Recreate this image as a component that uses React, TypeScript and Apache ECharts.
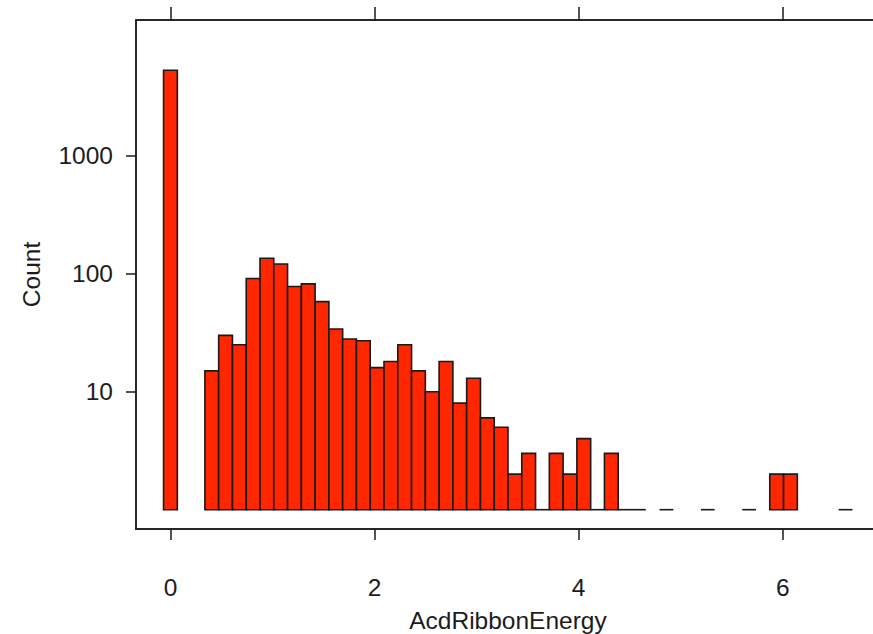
import React, { useEffect, useRef } from 'react';
import * as echarts from 'echarts';

// Histogram bins (centers) and counts
const binCenters = [
  0, 0.135, 0.27, 0.405, 0.54, 0.675, 0.81, 0.945, 1.08, 1.215,
  1.35, 1.485, 1.62, 1.755, 1.89, 2.025, 2.16, 2.295, 2.43, 2.565,
  2.7, 2.835, 2.97, 3.105, 3.24, 3.375, 3.51, 3.645, 3.78, 3.915,
  4.05, 4.185, 4.32, 4.455, 4.59, 4.725, 4.86, 4.995, 5.13, 5.265,
  5.4, 5.535, 5.67, 5.805, 5.94, 6.075, 6.21, 6.345, 6.48, 6.615,
];
const counts = [
  5300, 0, 0, 15, 30, 25, 91, 135, 121, 78,
  82, 58, 34, 28, 27, 16, 18, 25, 15, 10,
  18, 8, 13, 6, 5, 2, 3, 1, 3, 2,
  4, 1, 3, 1, 1, 0, 1, 0, 0, 1,
  0, 0, 1, 0, 2, 2, 0, 0, 0, 1,
];
const BIN_WIDTH = 0.135;
const xTicks = [0, 2, 4, 6];
const yTicks = [10, 100, 1000];
const X_MIN = -0.3375;
const X_MAX = 6.9525;
const Y_MIN = 0.686;
const Y_MAX = 14130;

const FONT = '"Liberation Sans", Arial, Helvetica, sans-serif';
const FONT_SIZE = 24.5;
const LINE = '#1a1a1a';
const TEXT = '#1c1c1c';
const FILL = '#ff2600';

export default function App() {
  const ref = useRef<HTMLDivElement>(null);
  useEffect(() => {
    if (!ref.current) return;
    const chart = echarts.init(ref.current, null, { renderer: 'svg' });
    const data = binCenters.map((c, i) => [c, counts[i]]);
    chart.setOption({
      animation: false,
      backgroundColor: '#ffffff',
      grid: {
        left: 136,
        right: 10,
        top: 20,
        bottom: 105,
        show: true,
        borderColor: LINE,
        borderWidth: 1.5,
        outerBoundsMode: 'none',
        containLabel: false,
      },
      xAxis: [
        {
          type: 'value',
          position: 'bottom',
          min: X_MIN,
          max: X_MAX,
          splitLine: { show: false },
          axisLine: { show: true, onZero: false, lineStyle: { color: LINE, width: 1.5 } },
          axisTick: { show: true, inside: false, length: 11, customValues: xTicks, lineStyle: { color: LINE, width: 1.5 } },
          axisLabel: {
            show: true,
            customValues: xTicks,
            margin: 46,
            color: TEXT,
            fontFamily: FONT,
            fontSize: FONT_SIZE,
            formatter: (v: number) => String(v),
          },
          name: 'AcdRibbonEnergy',
          nameLocation: 'middle',
          nameGap: 79,
          nameTextStyle: { color: TEXT, fontFamily: FONT, fontSize: FONT_SIZE, verticalAlign: 'top' },
        },
        {
          type: 'value',
          position: 'top',
          min: X_MIN,
          max: X_MAX,
          splitLine: { show: false },
          axisLine: { show: true, onZero: false, lineStyle: { color: LINE, width: 1.5 } },
          axisTick: { show: true, inside: false, length: 13, customValues: xTicks, lineStyle: { color: LINE, width: 1.5 } },
          axisLabel: { show: false },
        },
      ],
      yAxis: [
        {
          type: 'log',
          logBase: 10,
          min: Y_MIN,
          max: Y_MAX,
          splitLine: { show: false },
          axisLine: { show: true, onZero: false, lineStyle: { color: LINE, width: 1.5 } },
          axisTick: { show: true, inside: false, length: 10, customValues: yTicks, lineStyle: { color: LINE, width: 1.5 } },
          axisLabel: {
            show: true,
            customValues: yTicks,
            margin: 23,
            color: TEXT,
            fontFamily: FONT,
            fontSize: FONT_SIZE,
            formatter: (v: number) => String(Math.round(v)),
          },
          name: 'Count',
          nameLocation: 'middle',
          nameGap: 92,
          nameRotate: 90,
          nameTextStyle: { color: TEXT, fontFamily: FONT, fontSize: FONT_SIZE },
        },
      ],
      series: [
        {
          type: 'custom',
          xAxisIndex: 0,
          yAxisIndex: 0,
          data,
          clip: false,
          renderItem: (params: any, api: any) => {
            const c = api.value(0) as number;
            const n = api.value(1) as number;
            if (!(n > 0)) return null;
            const p0 = api.coord([c - BIN_WIDTH / 2, 1]);
            const p1 = api.coord([c + BIN_WIDTH / 2, n]);
            if (n <= 1) {
              return {
                type: 'line',
                shape: { x1: p0[0], y1: p0[1], x2: p1[0], y2: p0[1] },
                style: { stroke: LINE, lineWidth: 1.6 },
              };
            }
            return {
              type: 'rect',
              shape: { x: p0[0], y: p1[1], width: p1[0] - p0[0], height: p0[1] - p1[1] },
              style: { fill: FILL, stroke: LINE, lineWidth: 1.6 },
            };
          },
        },
      ],
    });
    return () => chart.dispose();
  }, []);
  return (
    <div style={{ position: 'absolute', left: 0, top: 0, width: 873, height: 634, overflow: 'hidden', background: '#fff' }}>
      <div ref={ref} style={{ width: 890, height: 634 }} />
    </div>
  );
}
